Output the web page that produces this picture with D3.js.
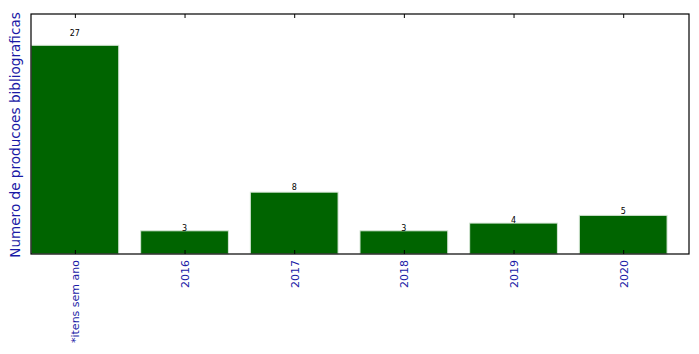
<!DOCTYPE html>
<html>
<head>
<meta charset="utf-8">
<script src="https://cdn.jsdelivr.net/npm/d3@7"></script>
<style>
  body { margin: 0; background: #fff; }
  text { font-family: "DejaVu Sans", sans-serif; }
</style>
</head>
<body>
<div class="chart"></div>
<script>
var categories = ['*itens sem ano', '2016', '2017', '2018', '2019', '2020'];
var counts = [27, 3, 8, 3, 4, 5];
var yMax = 31.05;

var svgWidth = 699;
var svgHeight = 354;
var margin = { top: 14, right: 10, bottom: 100, left: 31 };
var width = svgWidth - margin.left - margin.right;
var height = svgHeight - margin.top - margin.bottom;

var svg = d3.select('.chart')
  .append('svg')
  .attr('width', svgWidth)
  .attr('height', svgHeight);

var chartGroup = svg.append('g')
  .attr('transform', `translate(${margin.left}, ${margin.top})`);

// matplotlib-like positions: index i, bar width 0.8, xlim [-0.4, n-0.4]
var xScale = d3.scaleLinear()
  .domain([-0.4, categories.length - 0.4])
  .range([0, width]);

var yScale = d3.scaleLinear()
  .domain([0, yMax])
  .range([height, 0]);

// bars
chartGroup.selectAll('rect.bar')
  .data(counts)
  .enter()
  .append('rect')
  .attr('class', 'bar')
  .attr('x', (d, i) => xScale(i - 0.4))
  .attr('width', xScale(0.8) - xScale(0))
  .attr('y', d => yScale(d))
  .attr('height', d => height - yScale(d))
  .attr('fill', '#006400')
  .attr('stroke', '#d6e6d6')
  .attr('stroke-width', 1);

// value labels
chartGroup.selectAll('text.val')
  .data(counts)
  .enter()
  .append('text')
  .attr('class', 'val')
  .attr('x', (d, i) => xScale(i))
  .attr('y', d => yScale(d * 1.05) + 1)
  .attr('text-anchor', 'middle')
  .attr('font-size', '8px')
  .attr('fill', '#000')
  .text(d => d);

// bottom axis, ticks inside
var bottomAxis = d3.axisBottom(xScale)
  .tickValues(d3.range(categories.length))
  .tickSizeInner(-4)
  .tickSizeOuter(0)
  .tickFormat(i => categories[i]);

var xAxisG = chartGroup.append('g')
  .attr('transform', `translate(0, ${height})`)
  .call(bottomAxis);
xAxisG.select('.domain').remove();
xAxisG.selectAll('line').attr('stroke', '#000');
xAxisG.selectAll('text')
  .attr('font-size', '11px')
  .attr('fill', '#1a1aa6')
  .attr('transform', 'rotate(-90)')
  .attr('text-anchor', 'end')
  .attr('x', -6)
  .attr('y', 0)
  .attr('dy', '0.35em');

// top ticks
var topAxis = d3.axisTop(xScale)
  .tickValues(d3.range(categories.length))
  .tickSizeInner(-4)
  .tickSizeOuter(0)
  .tickFormat('');
var topG = chartGroup.append('g').call(topAxis);
topG.select('.domain').remove();
topG.selectAll('line').attr('stroke', '#000');

// frame
chartGroup.append('rect')
  .attr('x', 0)
  .attr('y', 0)
  .attr('width', width)
  .attr('height', height)
  .attr('fill', 'none')
  .attr('stroke', '#000')
  .attr('stroke-width', 1.2);

// y label
chartGroup.append('text')
  .attr('transform', 'rotate(-90)')
  .attr('x', -height / 2 - 1)
  .attr('y', -margin.left + 20)
  .attr('text-anchor', 'middle')
  .attr('font-size', '13.6px')
  .attr('fill', '#1a1aa6')
  .text('Numero de producoes bibliograficas');
</script>
</body>
</html>
